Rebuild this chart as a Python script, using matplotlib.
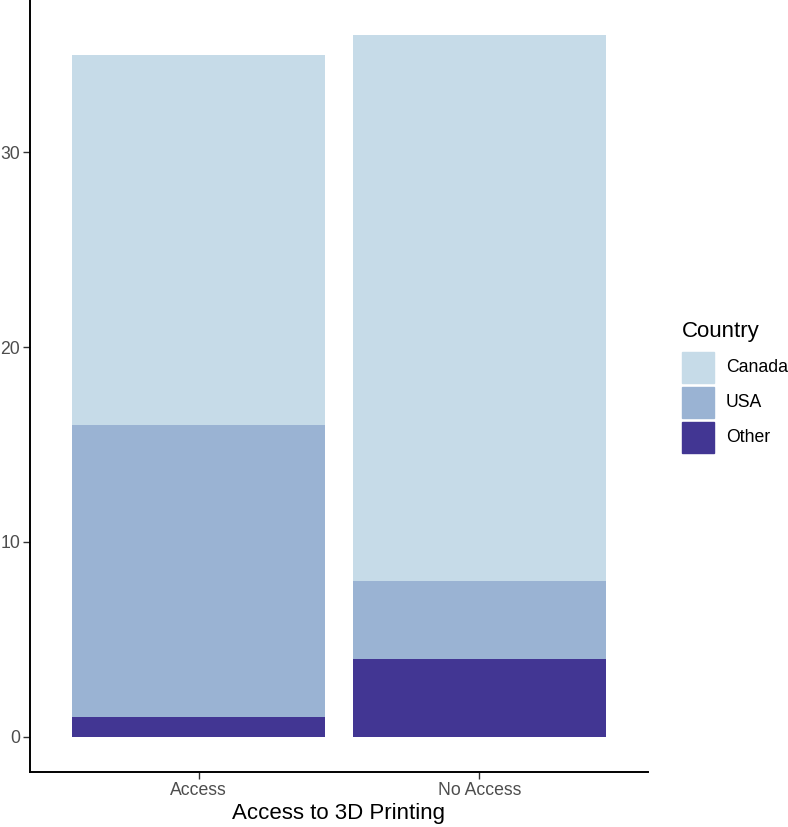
import matplotlib
matplotlib.use("Agg")
import matplotlib.pyplot as plt
from matplotlib.patches import Rectangle
import numpy as np

plt.rcParams['font.family'] = ['Liberation Sans', 'DejaVu Sans']

# Données
access_groups = ["Access", "No Access"]
countries = ["Canada", "USA", "Other"]
other_counts = [1, 4]
usa_counts = [15, 4]
canada_counts = [19, 28]
colors = {"Canada": "#c6dbe8", "USA": "#9ab3d3", "Other": "#423693"}

W, H = 788, 827
fig = plt.figure(figsize=(W / 100, H / 100), dpi=100)
ax = fig.add_axes([30 / W, 55 / H, 618 / W, 772 / H])

x = np.arange(1, len(access_groups) + 1)
width = 0.9
bottom = np.zeros(len(x))
for name, vals in [("Other", other_counts), ("USA", usa_counts), ("Canada", canada_counts)]:
    ax.bar(x, vals, width, bottom=bottom, color=colors[name], label=name)
    bottom = bottom + np.array(vals)

ax.set_xlim(0.4, 2.6)
total_max = bottom.max()
ax.set_ylim(-0.05 * total_max, total_max * 1.05)
ax.set_xticks(x)
ax.set_xticklabels(access_groups)
ax.set_yticks([0, 10, 20, 30])
ax.set_xlabel("Access to 3D Printing", fontsize=16, color="black", labelpad=3)

for side in ["top", "right"]:
    ax.spines[side].set_visible(False)
for side in ["left", "bottom"]:
    ax.spines[side].set_linewidth(1.4)
    ax.spines[side].set_color("black")
ax.tick_params(axis="both", length=5, width=1.0, color="#333333",
               labelcolor="#4d4d4d", labelsize=12.7, pad=2)

# Légende (à la ggplot)
def fx(px):
    return px / W

def fy(py):
    return 1 - py / H

fig.text(fx(682), fy(337), "Country", fontsize=16, ha="left", va="baseline")
key_top, key_h, key_w, pitch = 352, 31, 32, 35
for i, c in enumerate(countries):
    top = key_top + i * pitch
    fig.add_artist(Rectangle((fx(682), fy(top + key_h)), key_w / W, key_h / H,
                             transform=fig.transFigure, color=colors[c]))
    fig.text(fx(726), fy(top + key_h / 2), c, fontsize=12.7, ha="left", va="center")

fig.savefig("out.png", dpi=100)
